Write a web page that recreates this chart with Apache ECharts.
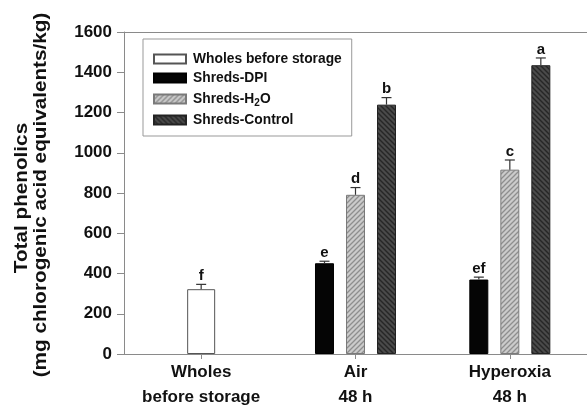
<!DOCTYPE html>
<html>
<head>
<meta charset="utf-8">
<script src="https://cdn.jsdelivr.net/npm/echarts@6/dist/echarts.min.js"></script>
<style>
  html, body { margin: 0; padding: 0; background: #fff; }
  #chart { width: 587px; height: 410px; }
</style>
</head>
<body>
<div id="chart"></div>
<script>
// Treatment groups on the x axis
const categories = ['Wholes\nbefore storage', 'Air\n48 h', 'Hyperoxia\n48 h'];

// Value axis range (mg chlorogenic acid equivalents/kg)
const yMin = 0;
const yMax = 1600;
const yStep = 200;

// Means, error bars and significance letters per treatment
const wholesMean = [322, null, null];
const wholesErr = [24, null, null];
const wholesLetters = ['f', '', ''];

const dpiMean = [null, 451, 370];
const dpiErr = [null, 10, 12];
const dpiLetters = ['', 'e', 'ef'];

const h2oMean = [null, 791, 916];
const h2oErr = [null, 36, 48];
const h2oLetters = ['', 'd', 'c'];

const controlMean = [null, 1239, 1435];
const controlErr = [null, 35, 36];
const controlLetters = ['', 'b', 'a'];

const seriesNames = ['Wholes before storage', 'Shreds-DPI', 'Shreds-H2O', 'Shreds-Control'];

const FONT = '"Liberation Sans", Arial, Helvetica, sans-serif';
const AXIS_GRAY = '#8a8a8a';

// Diagonal hatch tile used as a bar fill
function makeHatch(bg, fg, forward, size, lw) {
  const c = document.createElement('canvas');
  c.width = size; c.height = size;
  const g = c.getContext('2d');
  g.fillStyle = bg;
  g.fillRect(0, 0, size, size);
  g.strokeStyle = fg;
  g.lineWidth = lw;
  g.beginPath();
  if (forward) {
    g.moveTo(0, size); g.lineTo(size, 0);
    g.moveTo(-1, 1); g.lineTo(1, -1);
    g.moveTo(size - 1, size + 1); g.lineTo(size + 1, size - 1);
  } else {
    g.moveTo(0, 0); g.lineTo(size, size);
    g.moveTo(size - 1, -1); g.lineTo(size + 1, 1);
    g.moveTo(-1, size - 1); g.lineTo(1, size + 1);
  }
  g.stroke();
  return { image: c, repeat: 'repeat' };
}

const h2oFill = makeHatch('#cbcbcb', '#8e8e8e', true, 5, 1.3);
const controlFill = makeHatch('#4a4a4a', '#262626', false, 5, 1.4);

// Bar geometry inside each category group
const BAR_W = 19;
const SLOT = 31;

// Error bar + letter overlay for one bar series
function errorSeries(means, errs, letters, offset) {
  const rows = [];
  const labels = [];
  means.forEach((m, i) => {
    if (m !== null) {
      rows.push([i, m, errs[i]]);
      labels.push(letters[i]);
    }
  });
  return {
    type: 'custom',
    xAxisIndex: 0,
    yAxisIndex: 0,
    z: 5,
    silent: true,
    data: rows,
    renderItem: function (params, api) {
      const i = api.value(0);
      const m = api.value(1);
      const e = api.value(2);
      const base = api.coord([i, m]);
      const top = api.coord([i, m + e]);
      const x = base[0] + offset;
      const stroke = { stroke: '#333', lineWidth: 1.2 };
      return {
        type: 'group',
        children: [
          { type: 'line', shape: { x1: x, y1: base[1], x2: x, y2: top[1] }, style: stroke },
          { type: 'line', shape: { x1: x - 5, y1: top[1], x2: x + 5, y2: top[1] }, style: stroke },
          {
            type: 'text',
            x: x, y: top[1] - 1,
            style: {
              text: labels[params.dataIndex],
              font: 'bold 15px ' + FONT,
              fill: '#111',
              align: 'center',
              verticalAlign: 'bottom'
            }
          }
        ]
      };
    }
  };
}

const chart = echarts.init(document.getElementById('chart'), null, { renderer: 'canvas' });

const option = {
  animation: false,
  backgroundColor: '#fff',
  grid: { left: 124, top: 32, width: 466, bottom: 51, containLabel: false },
  legend: {
    orient: 'vertical',
    left: 143,
    top: 39,
    padding: [13, 10, 9, 10],
    itemWidth: 32,
    itemHeight: 9,
    itemGap: 5,
    borderColor: '#999',
    borderWidth: 1,
    icon: 'rect',
    data: seriesNames,
    formatter: function (name) {
      return name === 'Shreds-H2O' ? 'Shreds-H{sub|2}O' : name;
    },
    textStyle: {
      fontFamily: FONT,
      fontWeight: 'bold',
      fontSize: 13.8,
      lineHeight: 14,
      color: '#111',
      padding: [0, 0, 0, 2],
      rich: {
        sub: {
          fontFamily: FONT,
          fontWeight: 'bold',
          fontSize: 10,
          lineHeight: 6,
          padding: [8, 0, 0, 0],
          color: '#111'
        }
      }
    }
  },
  xAxis: [
    {
      type: 'category',
      data: categories,
      position: 'bottom',
      axisLine: { show: true, lineStyle: { color: AXIS_GRAY, width: 1 } },
      axisTick: { show: true, alignWithLabel: true, length: 5, lineStyle: { color: AXIS_GRAY } },
      axisLabel: {
        fontFamily: FONT,
        fontWeight: 'bold',
        fontSize: 17,
        lineHeight: 25,
        color: '#111',
        margin: 6
      },
      splitLine: { show: false }
    },
    {
      type: 'category',
      data: categories,
      position: 'top',
      axisLine: { show: true, lineStyle: { color: AXIS_GRAY, width: 1 } },
      axisTick: { show: false },
      axisLabel: { show: false },
      splitLine: { show: false }
    }
  ],
  yAxis: {
    type: 'value',
    min: yMin,
    max: yMax,
    interval: yStep,
    axisLine: { show: true, lineStyle: { color: AXIS_GRAY, width: 1 } },
    axisTick: { show: true, inside: false, length: 7, lineStyle: { color: AXIS_GRAY } },
    axisLabel: {
      fontFamily: FONT,
      fontWeight: 'bold',
      fontSize: 17,
      color: '#111',
      margin: 12,
      formatter: function (v) { return String(v); }
    },
    splitLine: { show: false }
  },
  graphic: [
    {
      type: 'text',
      x: 22, y: 198,
      rotation: Math.PI / 2,
      scaleX: 1.15,
      style: {
        text: 'Total phenolics',
        font: 'bold 18px ' + FONT,
        fill: '#111',
        align: 'center',
        verticalAlign: 'middle'
      }
    },
    {
      type: 'text',
      x: 41, y: 195,
      rotation: Math.PI / 2,
      scaleX: 1.15,
      style: {
        text: '(mg chlorogenic acid equivalents/kg)',
        font: 'bold 18px ' + FONT,
        fill: '#111',
        align: 'center',
        verticalAlign: 'middle'
      }
    }
  ],
  series: [
    {
      name: seriesNames[0],
      type: 'bar',
      xAxisIndex: 1,
      yAxisIndex: 0,
      barWidth: 28,
      data: wholesMean.map(v => (v === null ? '-' : v)),
      itemStyle: { color: '#ffffff', borderColor: '#555', borderWidth: 1 }
    },
    {
      name: seriesNames[1],
      type: 'bar',
      xAxisIndex: 0,
      barWidth: BAR_W,
      barGap: ((SLOT - BAR_W) / BAR_W * 100).toFixed(1) + '%',
      data: dpiMean.map(v => (v === null ? '-' : v)),
      itemStyle: { color: '#050505', borderColor: '#000', borderWidth: 1 }
    },
    {
      name: seriesNames[2],
      type: 'bar',
      xAxisIndex: 0,
      barWidth: BAR_W,
      data: h2oMean.map(v => (v === null ? '-' : v)),
      itemStyle: { color: h2oFill, borderColor: '#7a7a7a', borderWidth: 1 }
    },
    {
      name: seriesNames[3],
      type: 'bar',
      xAxisIndex: 0,
      barWidth: BAR_W,
      data: controlMean.map(v => (v === null ? '-' : v)),
      itemStyle: { color: controlFill, borderColor: '#222', borderWidth: 1 }
    },
    errorSeries(wholesMean, wholesErr, wholesLetters, 0),
    errorSeries(dpiMean, dpiErr, dpiLetters, -SLOT),
    errorSeries(h2oMean, h2oErr, h2oLetters, 0),
    errorSeries(controlMean, controlErr, controlLetters, SLOT)
  ]
};

chart.setOption(option);
</script>
</body>
</html>
